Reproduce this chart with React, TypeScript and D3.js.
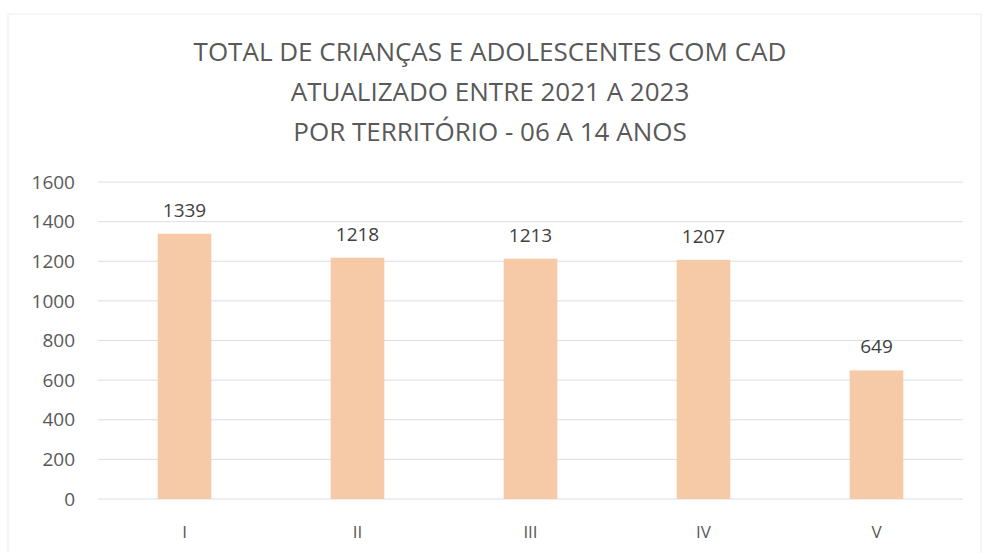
import React, { useRef, useEffect } from "react";
import * as d3 from "d3";

const titleLines = [
  "TOTAL DE CRIANÇAS E ADOLESCENTES COM CAD",
  "ATUALIZADO ENTRE 2021 A 2023",
  "POR TERRITÓRIO - 06 A 14 ANOS",
];
const territories = ["I", "II", "III", "IV", "V"];
const totals = [1339, 1218, 1213, 1207, 649];
const yTicks = [0, 200, 400, 600, 800, 1000, 1200, 1400, 1600];

const WIDTH = 983;
const HEIGHT = 553;
const FONT = "'Open Sans', 'Noto Sans', sans-serif";
const TEXT_COLOR = "#595959";

const App = () => {
  const ref = useRef<SVGSVGElement>(null);

  useEffect(() => {
    const svg = d3.select(ref.current);
    svg.selectAll("*").remove();

    const margin = { top: 182, right: 20, bottom: 54, left: 98 };

    const xScale = d3
      .scaleBand()
      .domain(territories)
      .range([margin.left, WIDTH - margin.right])
      .paddingInner(0.69)
      .paddingOuter(0.345);

    const yScale = d3
      .scaleLinear()
      .domain([0, 1600])
      .range([HEIGHT - margin.bottom, margin.top]);

    // faint frame of the original chart area
    svg
      .append("rect")
      .attr("x", 8)
      .attr("y", 14)
      .attr("width", WIDTH - 10)
      .attr("height", HEIGHT - 10)
      .attr("fill", "none")
      .attr("stroke", "#ececf4")
      .attr("stroke-width", 1);

    svg
      .append("g")
      .selectAll("text")
      .data(titleLines)
      .join("text")
      .attr("x", 490)
      .attr("y", (d, i) => 61 + i * 40)
      .attr("text-anchor", "middle")
      .attr("font-family", FONT)
      .attr("font-size", 26)
      .attr("fill", TEXT_COLOR)
      .text((d) => d);

    // gridlines
    svg
      .append("g")
      .selectAll("line")
      .data(yTicks)
      .join("line")
      .attr("x1", margin.left)
      .attr("x2", WIDTH - margin.right)
      .attr("y1", (d) => yScale(d))
      .attr("y2", (d) => yScale(d))
      .attr("stroke", "#dcdcec")
      .attr("stroke-width", 1);

    // y axis labels
    svg
      .append("g")
      .selectAll("text")
      .data(yTicks)
      .join("text")
      .attr("x", 75)
      .attr("y", (d) => yScale(d))
      .attr("dy", "0.35em")
      .attr("text-anchor", "end")
      .attr("font-family", FONT)
      .attr("font-size", 19)
      .attr("fill", TEXT_COLOR)
      .text((d) => d);

    const rows = territories.map((t, i) => ({ t, v: totals[i] }));

    svg
      .append("g")
      .selectAll("rect")
      .data(rows)
      .join("rect")
      .attr("x", (d) => xScale(d.t)!)
      .attr("y", (d) => yScale(d.v))
      .attr("width", xScale.bandwidth())
      .attr("height", (d) => yScale(0) - yScale(d.v))
      .attr("fill", "#f6caa6");

    svg
      .append("g")
      .selectAll("text")
      .data(rows)
      .join("text")
      .attr("x", (d) => xScale(d.t)! + xScale.bandwidth() / 2)
      .attr("y", (d) => yScale(d.v) - 17)
      .attr("text-anchor", "middle")
      .attr("font-family", FONT)
      .attr("font-size", 19)
      .attr("fill", "#404040")
      .text((d) => d.v);

    // category labels
    svg
      .append("g")
      .selectAll("text")
      .data(territories)
      .join("text")
      .attr("x", (d) => xScale(d)! + xScale.bandwidth() / 2)
      .attr("y", yScale(0) + 33)
      .attr("dy", "0.35em")
      .attr("text-anchor", "middle")
      .attr("font-family", FONT)
      .attr("font-size", 17)
      .attr("fill", TEXT_COLOR)
      .text((d) => d);
  }, []);

  return (
    <div style={{ position: "absolute", left: 0, top: 0, background: "#fff" }}>
      <svg ref={ref} width={WIDTH} height={HEIGHT} style={{ display: "block" }} />
    </div>
  );
};

export default App;
